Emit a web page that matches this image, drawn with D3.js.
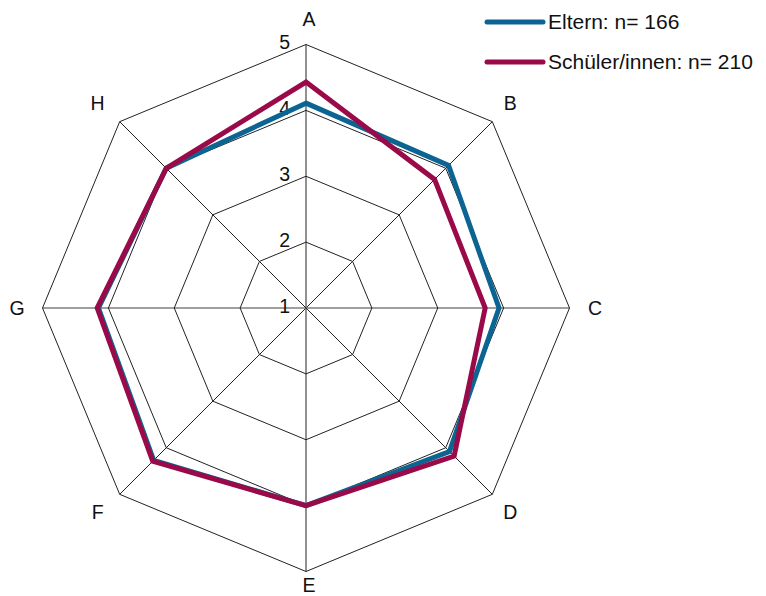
<!DOCTYPE html>
<html>
<head>
<meta charset="utf-8">
<script src="https://cdn.jsdelivr.net/npm/d3@7"></script>
<style>
  html, body { margin: 0; padding: 0; background: #fff; }
  svg { display: block; font-family: "Liberation Sans", Arial, sans-serif; }
</style>
</head>
<body>
<svg id="chart" width="766" height="596"></svg>
<script>
// Axes of the radar
const categories = ["A", "B", "C", "D", "E", "F", "G", "H"];
// Ring values
const ticks = [1, 2, 3, 4, 5];
// Mean ratings per group
const eltern = [4.11, 4.06, 3.93, 4.08, 4.0, 4.27, 4.15, 4.0];
const schueler = [4.43, 3.76, 3.72, 4.18, 4.0, 4.29, 4.17, 4.0];
const seriesNames = ["Eltern: n= 166", "Schüler/innen: n= 210"];
const seriesColors = ["#0b6491", "#9b0a48"];

const svg = d3.select("#chart");
const cx = 306, cy = 308, R = 263.5;
const fontSize = 19.5;

const r = d3.scaleLinear().domain([1, 5]).range([0, R]);
const angle = d3.scalePoint().domain(categories).range([0, 2 * Math.PI * (categories.length - 1) / categories.length]);

const pt = (cat, v) => {
  const a = angle(cat);
  return [cx + r(v) * Math.sin(a), cy - r(v) * Math.cos(a)];
};

const g = svg.append("g");

// Spokes
categories.forEach(c => {
  const [x, y] = pt(c, 5);
  const horizontal = Math.abs(y - cy) < 0.5;
  g.append("line")
    .attr("x1", cx).attr("y1", cy).attr("x2", x).attr("y2", y)
    .attr("stroke", horizontal ? "#7f7f7f" : "#222")
    .attr("stroke-width", horizontal ? 1.4 : 1);
});

// Rings
ticks.filter(t => t > 1).forEach(t => {
  g.append("polygon")
    .attr("points", categories.map(c => pt(c, t).join(",")).join(" "))
    .attr("fill", "none")
    .attr("stroke", "#222")
    .attr("stroke-width", 1);
});

// Ring labels
ticks.forEach(t => {
  g.append("text")
    .attr("x", cx - 16)
    .attr("y", cy - r(t) - 2)
    .attr("dy", "0.35em")
    .attr("text-anchor", "end")
    .attr("font-size", fontSize)
    .attr("fill", "#111")
    .text(t);
});

// Category labels
categories.forEach(c => {
  const a = angle(c);
  const s = Math.sin(a);
  const bottom = Math.cos(a) < -0.99;
  const vertical = Math.abs(s) < 0.01;
  const leftDiag = s < -0.5 && s > -0.99;
  const lr = bottom ? 277 : 289;
  g.append("text")
    .attr("x", cx + lr * s + (vertical ? 3 : 0) + (leftDiag ? -4 : 0))
    .attr("y", cy - lr * Math.cos(a))
    .attr("dy", "0.35em")
    .attr("text-anchor", "middle")
    .attr("font-size", fontSize)
    .attr("fill", "#111")
    .text(c);
});

// Series
const line = d3.line().curve(d3.curveLinearClosed);
[eltern, schueler].forEach((vals, i) => {
  g.append("path")
    .attr("d", line(categories.map((c, j) => pt(c, vals[j]))))
    .attr("fill", "none")
    .attr("stroke", seriesColors[i])
    .attr("stroke-width", 5)
    .attr("stroke-linejoin", "miter");
});

// Legend
const legend = svg.append("g").attr("transform", "translate(487,22)");
seriesNames.forEach((name, i) => {
  const row = legend.append("g").attr("transform", `translate(0,${i * 40})`);
  row.append("line")
    .attr("x1", 0).attr("x2", 56).attr("y1", 0).attr("y2", 0)
    .attr("stroke", seriesColors[i])
    .attr("stroke-width", 5)
    .attr("stroke-linecap", "round");
  row.append("text")
    .attr("x", 61).attr("y", 0).attr("dy", "0.35em")
    .attr("font-size", 21)
    .attr("fill", "#111")
    .text(name);
});
</script>
</body>
</html>
